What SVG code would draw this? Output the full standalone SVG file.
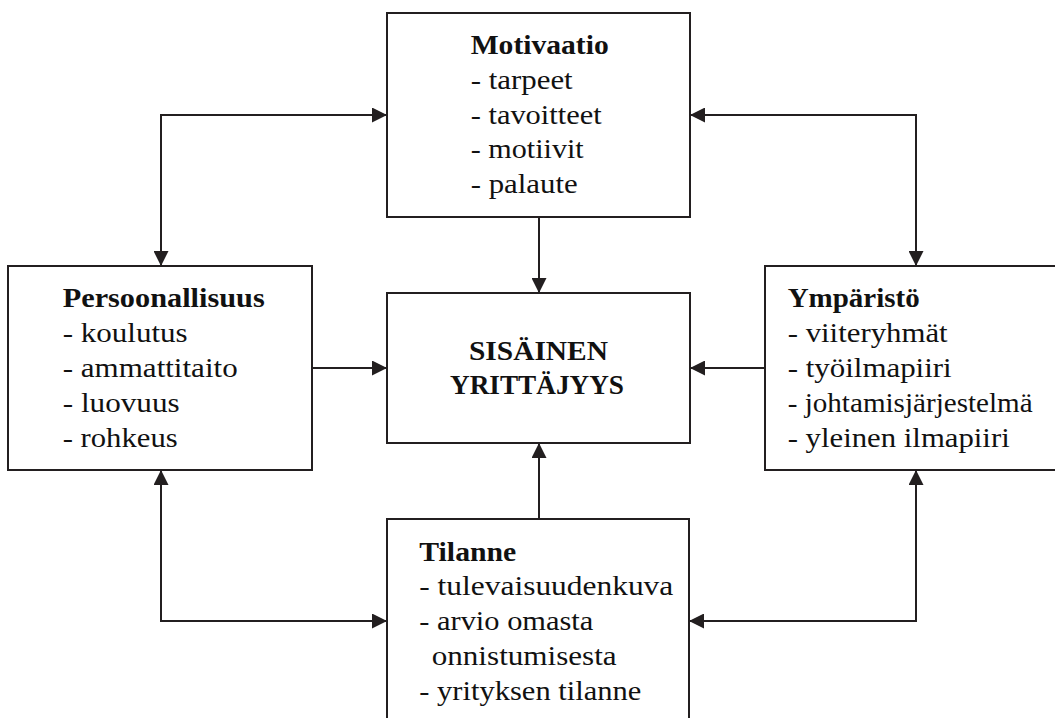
<svg xmlns="http://www.w3.org/2000/svg" width="1055" height="718" viewBox="0 0 1055 718">
<style>
.box{fill:#fff;stroke:#231f20;stroke-width:2}
.ln{fill:none;stroke:#231f20;stroke-width:2}
text{font-family:"Liberation Serif","Times New Roman",serif;font-size:27px;fill:#111}
.b{font-weight:bold}
</style>
<defs>
<marker id="ah" viewBox="0 0 15 15" refX="15" refY="7.5" markerWidth="15" markerHeight="15" markerUnits="userSpaceOnUse" orient="auto-start-reverse">
<path d="M0,0 L15,7.5 L0,15 Z" fill="#231f20"/>
</marker>
</defs>
<rect width="1055" height="718" fill="#fff"/>
<g id="connectors">
<line class="ln" x1="539" y1="217" x2="539" y2="293" marker-end="url(#ah)"/>
<line class="ln" x1="539" y1="519" x2="539" y2="443" marker-end="url(#ah)"/>
<line class="ln" x1="312" y1="368" x2="387" y2="368" marker-end="url(#ah)"/>
<line class="ln" x1="765" y1="368" x2="690" y2="368" marker-end="url(#ah)"/>
<polyline class="ln" points="387,115 161,115 161,266" marker-start="url(#ah)" marker-end="url(#ah)"/>
<polyline class="ln" points="690,115 916,115 916,266" marker-start="url(#ah)" marker-end="url(#ah)"/>
<polyline class="ln" points="161,470 161,621 387,621" marker-start="url(#ah)" marker-end="url(#ah)"/>
<polyline class="ln" points="916,470 916,621 689,621" marker-start="url(#ah)" marker-end="url(#ah)"/>
</g>
<g id="motivaatio">
<rect class="box" x="387" y="13" width="303" height="204"/>
<text class="b" x="470.7" y="54" textLength="138" lengthAdjust="spacingAndGlyphs">Motivaatio</text>
<text x="470.7" y="89" textLength="102" lengthAdjust="spacingAndGlyphs">- tarpeet</text>
<text x="470.7" y="124" textLength="131" lengthAdjust="spacingAndGlyphs">- tavoitteet</text>
<text x="470.7" y="158" textLength="113" lengthAdjust="spacingAndGlyphs">- motiivit</text>
<text x="470.7" y="193" textLength="107" lengthAdjust="spacingAndGlyphs">- palaute</text>
</g>
<g id="persoonallisuus">
<rect class="box" x="8" y="266" width="304" height="204"/>
<text class="b" x="62.7" y="307" textLength="202" lengthAdjust="spacingAndGlyphs">Persoonallisuus</text>
<text x="62.7" y="342" textLength="125" lengthAdjust="spacingAndGlyphs">- koulutus</text>
<text x="62.7" y="377" textLength="175" lengthAdjust="spacingAndGlyphs">- ammattitaito</text>
<text x="62.7" y="412" textLength="117" lengthAdjust="spacingAndGlyphs">- luovuus</text>
<text x="62.7" y="447" textLength="115" lengthAdjust="spacingAndGlyphs">- rohkeus</text>
</g>
<g id="sisainen">
<rect class="box" x="387" y="293" width="303" height="150"/>
<text class="b" x="469" y="360" textLength="139" lengthAdjust="spacingAndGlyphs">SISÄINEN</text>
<text class="b" x="450" y="394" textLength="174" lengthAdjust="spacingAndGlyphs">YRITTÄJYYS</text>
</g>
<g id="ymparisto">
<rect class="box" x="765" y="266" width="300" height="204"/>
<text class="b" x="787.7" y="307" textLength="132" lengthAdjust="spacingAndGlyphs">Ympäristö</text>
<text x="787.7" y="342" textLength="160" lengthAdjust="spacingAndGlyphs">- viiteryhmät</text>
<text x="787.7" y="377" textLength="164" lengthAdjust="spacingAndGlyphs">- työilmapiiri</text>
<text x="787.7" y="412" textLength="245" lengthAdjust="spacingAndGlyphs">- johtamisjärjestelmä</text>
<text x="787.7" y="447" textLength="222" lengthAdjust="spacingAndGlyphs">- yleinen ilmapiiri</text>
</g>
<g id="tilanne">
<rect class="box" x="387" y="519" width="302" height="210"/>
<text class="b" x="419.3" y="561" textLength="97" lengthAdjust="spacingAndGlyphs">Tilanne</text>
<text x="419.3" y="595" textLength="254" lengthAdjust="spacingAndGlyphs">- tulevaisuudenkuva</text>
<text x="419.3" y="630" textLength="174" lengthAdjust="spacingAndGlyphs">- arvio omasta</text>
<text x="431.7" y="665" textLength="185" lengthAdjust="spacingAndGlyphs">onnistumisesta</text>
<text x="419.3" y="700" textLength="222" lengthAdjust="spacingAndGlyphs">- yrityksen tilanne</text>
</g>
</svg>
